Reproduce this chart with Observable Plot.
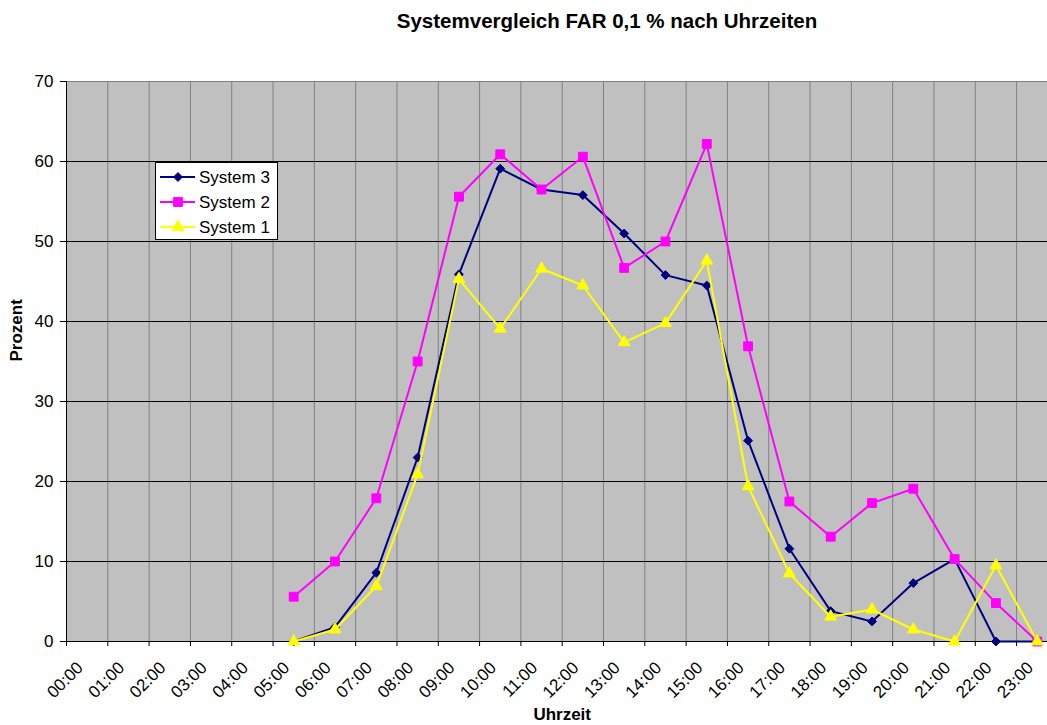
<!DOCTYPE html>
<html>
<head>
<meta charset="utf-8">
<script src="https://cdn.jsdelivr.net/npm/d3@7"></script>
<script src="https://cdn.jsdelivr.net/npm/@observablehq/plot@0.6"></script>
<style>
  html, body { margin: 0; padding: 0; background: #fff; overflow: hidden; }
  body { width: 1047px; height: 725px; position: relative; font-family: "Liberation Sans", Arial, sans-serif; }
  #title { position: absolute; left: 0; top: 10px; width: 1214px; text-align: center; font-weight: bold; font-size: 20.5px; line-height: 22px; color: #000; white-space: nowrap; }
  #chart { position: absolute; left: 0; top: 40px; width: 1060px; }
  #chart svg { max-width: none !important; }
  #legend { position: absolute; left: 155px; top: 162px; }
</style>
</head>
<body>
<div id="title">Systemvergleich FAR 0,1 % nach Uhrzeiten</div>
<div id="chart"></div>
<svg id="legend" width="124" height="79"></svg>
<script>
// Category labels (hours)
const hours = ["00:00","01:00","02:00","03:00","04:00","05:00","06:00","07:00","08:00","09:00","10:00","11:00",
               "12:00","13:00","14:00","15:00","16:00","17:00","18:00","19:00","20:00","21:00","22:00","23:00"];
// Series values (Prozent), null = no value
const system3 = [null,null,null,null,null, 0, 1.8, 8.6, 23.0, 45.9, 59.1, 56.5, 55.8, 51.0, 45.8, 44.5, 25.1, 11.6, 3.8, 2.5, 7.3, 10.3, 0, 0];
const system2 = [null,null,null,null,null, 5.6, 10.0, 17.9, 35.0, 55.6, 60.9, 56.5, 60.6, 46.7, 50.0, 62.2, 36.9, 17.5, 13.1, 17.3, 19.1, 10.3, 4.8, 0];
const system1 = [null,null,null,null,null, 0, 1.5, 6.9, 20.9, 45.3, 39.1, 46.6, 44.5, 37.4, 39.8, 47.6, 19.4, 8.5, 3.1, 4.0, 1.5, 0, 9.5, 0];
const yTicks = [0, 10, 20, 30, 40, 50, 60, 70];

const seriesNames = ["System 3", "System 2", "System 1"];
const seriesValues = [system3, system2, system1];
const seriesColors = ["#000080", "#FF00FF", "#FFFF00"];
const seriesSymbols = ["diamond2", "square", "triangle"];
const seriesR = [4.0, 5.0, 4.4];

const rows = seriesValues.map(vals =>
  vals.map((v, i) => ({i, hour: hours[i], v})).filter(d => d.v != null)
);

const marks = [
  Plot.frame({fill: "#C0C0C0", stroke: null}),
  Plot.gridX(d3.range(1, hours.length + 1), {stroke: "#808080", strokeOpacity: 1}),
  Plot.gridY(yTicks.filter(t => t > 0 && t < 70), {stroke: "#000000", strokeOpacity: 1}),
  Plot.ruleY([70], {stroke: "#808080"}),
  Plot.axisY(yTicks, {tickSize: 6, tickPadding: 7, label: null, stroke: "#000", fill: "#000"}),
  Plot.axisX(d3.range(0, hours.length + 1), {tickSize: 5, tickFormat: () => "", label: null, stroke: "#000"}),
  Plot.ruleY([0], {stroke: "#000"}),
  Plot.ruleX([0], {stroke: "#000"}),
  Plot.text(hours, {x: (d, i) => i + 0.5, frameAnchor: "bottom", text: d => d, rotate: -45,
                    textAnchor: "end", lineAnchor: "middle", dx: -7, dy: 23.5, fill: "#000"}),
  Plot.text(["Prozent"], {frameAnchor: "left", dx: -50, rotate: -90, fontWeight: "bold", fill: "#000"}),
  Plot.text(["Uhrzeit"], {frameAnchor: "bottom", dy: 78, fontWeight: "bold", fill: "#000"})
];

seriesValues.forEach((_, k) => {
  marks.push(Plot.line(rows[k], {x: d => d.i + 0.5, y: "v", stroke: seriesColors[k], strokeWidth: 2}));
  marks.push(Plot.dot(rows[k], {x: d => d.i + 0.5, y: "v", symbol: seriesSymbols[k], r: seriesR[k],
                                fill: seriesColors[k], stroke: seriesColors[k], strokeWidth: 1}));
});

const chart = Plot.plot({
  width: 1060,
  height: 685,
  marginLeft: 66,
  marginRight: 2.6,
  marginTop: 41,
  marginBottom: 84,
  style: {fontFamily: '"Liberation Sans", Arial, sans-serif', fontSize: "17px", color: "#000", background: "transparent", overflow: "visible", maxWidth: "none"},
  x: {type: "linear", domain: [0, hours.length], axis: null},
  y: {domain: [0, 70], axis: null},
  marks
});
chart.style.maxWidth = "none";
chart.style.width = "1060px";
chart.style.height = "685px";
document.getElementById("chart").appendChild(chart);

// Legend
const lg = d3.select("#legend");
lg.append("rect").attr("x", 0.5).attr("y", 0.5).attr("width", 122).attr("height", 77)
  .attr("fill", "#fff").attr("stroke", "#000").attr("stroke-width", 1);
seriesNames.forEach((name, k) => {
  const cy = 15 + k * 25;
  const g = lg.append("g");
  g.append("line").attr("x1", 5).attr("x2", 40).attr("y1", cy).attr("y2", cy)
    .attr("stroke", seriesColors[k]).attr("stroke-width", 2);
  g.append("path")
    .attr("d", d3.symbol(seriesSymbols[k] === "diamond2" ? d3.symbolDiamond2 : seriesSymbols[k] === "square" ? d3.symbolSquare : d3.symbolTriangle,
                         Math.PI * seriesR[k] * seriesR[k])())
    .attr("transform", `translate(23,${cy})`)
    .attr("fill", seriesColors[k]).attr("stroke", seriesColors[k]);
  g.append("text").attr("x", 44).attr("y", cy).attr("dy", "0.35em")
    .attr("font-family", '"Liberation Sans", Arial, sans-serif').attr("font-size", 17)
    .attr("fill", "#000").text(name);
});
</script>
</body>
</html>
